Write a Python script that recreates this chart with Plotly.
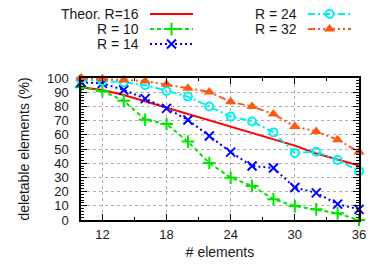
import plotly.graph_objects as go

# ---- data ----
elements = [10, 12, 14, 16, 18, 20, 22, 24, 26, 28, 30, 32, 34, 36]
theor_r16 = [93.5, 91.5, 88, 83.5, 79, 74.5, 70.5, 66, 61.5, 57, 52.4, 46.8, 42.5, 38.3]
r10 = [93.5, 90.9, 83.9, 70.6, 67.6, 55.2, 40.1, 29.8, 24.0, 14.7, 9.8, 7.5, 4.7, 0.0]
r14 = [97.0, 96.2, 91.6, 85.5, 78.6, 70.4, 59.2, 47.8, 38.0, 36.6, 22.9, 19.1, 11.2, 7.5]
r24 = [99.0, 97.9, 97.0, 95.1, 90.9, 86.9, 79.9, 72.9, 69.4, 61.7, 47.2, 48.1, 42.2, 34.4]
r32 = [100.0, 99.5, 98.6, 97.9, 95.6, 92.8, 90.2, 83.2, 79.9, 74.6, 65.9, 62.4, 56.6, 47.8]
x_ticks = [12, 18, 24, 30, 36]
y_ticks = [0, 10, 20, 30, 40, 50, 60, 70, 80, 90, 100]

W, H = 382, 268
L, R, T, B = 81, 359, 78, 220
FONT = "Liberation Sans, Arial, sans-serif"
TXT = "#1a1a1a"

styles = [
    dict(name="Theor. R=16", y=theor_r16, color="#ff0000", dash="solid", symbol=None),
    dict(name="R = 10", y=r10, color="#00e600", dash="4px,3px", symbol="cross-thin-open"),
    dict(name="R = 14", y=r14, color="#0000ff", dash="2px,3px", symbol="x-thin-open"),
    dict(name="R = 24", y=r24, color="#00f0f0", dash="7px,3px,2px,3px", symbol="circle-open"),
    dict(name="R = 32", y=r32, color="#ff5a14", dash="7px,3px,2px,3px,2px,3px", symbol="triangle-up"),
]


def marker_for(sym, color):
    if sym == "circle-open":
        return dict(symbol=sym, size=8, color=color, line=dict(color=color, width=2))
    if sym == "triangle-up":
        return dict(symbol=sym, size=10, color=color, line=dict(width=0))
    return dict(symbol=sym, size=9, color=color, line=dict(color=color, width=2))


fig = go.Figure()
for s in styles:
    mode = "lines" if s["symbol"] is None else "lines+markers"
    mk = marker_for(s["symbol"], s["color"]) if s["symbol"] else {}
    fig.add_trace(go.Scatter(x=elements, y=s["y"], mode=mode, name=s["name"],
                             line=dict(color=s["color"], width=2, dash=s["dash"]),
                             marker=mk, showlegend=False, cliponaxis=False))

# ---- manual key (gnuplot style: text then sample) in pixel space ----
key_pos = [(141, 14), (141, 29), (141, 44), (299, 14), (299, 29)]
for s, (tx, ty) in zip(styles, key_pos):
    fig.add_annotation(x=tx, y=ty, xref="x2", yref="y2", text=s["name"], showarrow=False,
                       xanchor="right", yanchor="middle",
                       font=dict(family=FONT, size=14, color=TXT))
    x0, x1 = tx + 9, tx + 52
    fig.add_trace(go.Scatter(x=[x0, x1], y=[ty, ty], xaxis="x2", yaxis="y2", mode="lines",
                             line=dict(color=s["color"], width=2, dash=s["dash"]),
                             showlegend=False, hoverinfo="skip"))
    if s["symbol"]:
        fig.add_trace(go.Scatter(x=[(x0 + x1) / 2], y=[ty], xaxis="x2", yaxis="y2",
                                 mode="markers", marker=marker_for(s["symbol"], s["color"]),
                                 showlegend=False, hoverinfo="skip"))

axis_common = dict(showline=True, linecolor="black", linewidth=1.5, mirror="allticks",
                   ticks="inside", ticklen=6, tickwidth=1, tickcolor="black",
                   showgrid=True, gridcolor="#b0b0b0", griddash="dot", gridwidth=1,
                   zeroline=False, automargin=False,
                   tickfont=dict(family=FONT, size=13, color=TXT))

fig.update_layout(
    width=W, height=H,
    margin=dict(l=0, r=0, t=0, b=0, autoexpand=False),
    paper_bgcolor="white", plot_bgcolor="rgba(0,0,0,0)",
    xaxis=dict(**axis_common, domain=[L / W, R / W], range=[10, 36],
               tickvals=x_ticks, ticktext=[str(v) for v in x_ticks],
               minor=dict(dtick=3, tick0=0, ticks="inside", ticklen=3, tickcolor="black", showgrid=False),
               ticklabelstandoff=2,
               title=dict(text="# elements", font=dict(family=FONT, size=14, color=TXT), standoff=6)),
    yaxis=dict(**axis_common, domain=[(H - B) / H, (H - T) / H], range=[0, 100],
               tickvals=y_ticks, ticktext=[str(v) for v in y_ticks],
               minor=dict(dtick=2, tick0=0, ticks="inside", ticklen=3, tickcolor="black", showgrid=False),
               ticklabelstandoff=8,
               title=dict(text="deletable elements (%)", font=dict(family=FONT, size=14, color=TXT), standoff=14)),
    xaxis2=dict(domain=[0, 1], range=[0, W], visible=False, anchor="y2", fixedrange=True, automargin=False),
    yaxis2=dict(domain=[0, 1], range=[H, 0], visible=False, anchor="x2", fixedrange=True, automargin=False),
    font=dict(family=FONT, size=14, color=TXT),
)

fig.write_html("out.html", config={"displayModeBar": False},
               post_script="document.body.style.margin='0';document.body.style.overflow='hidden';")
